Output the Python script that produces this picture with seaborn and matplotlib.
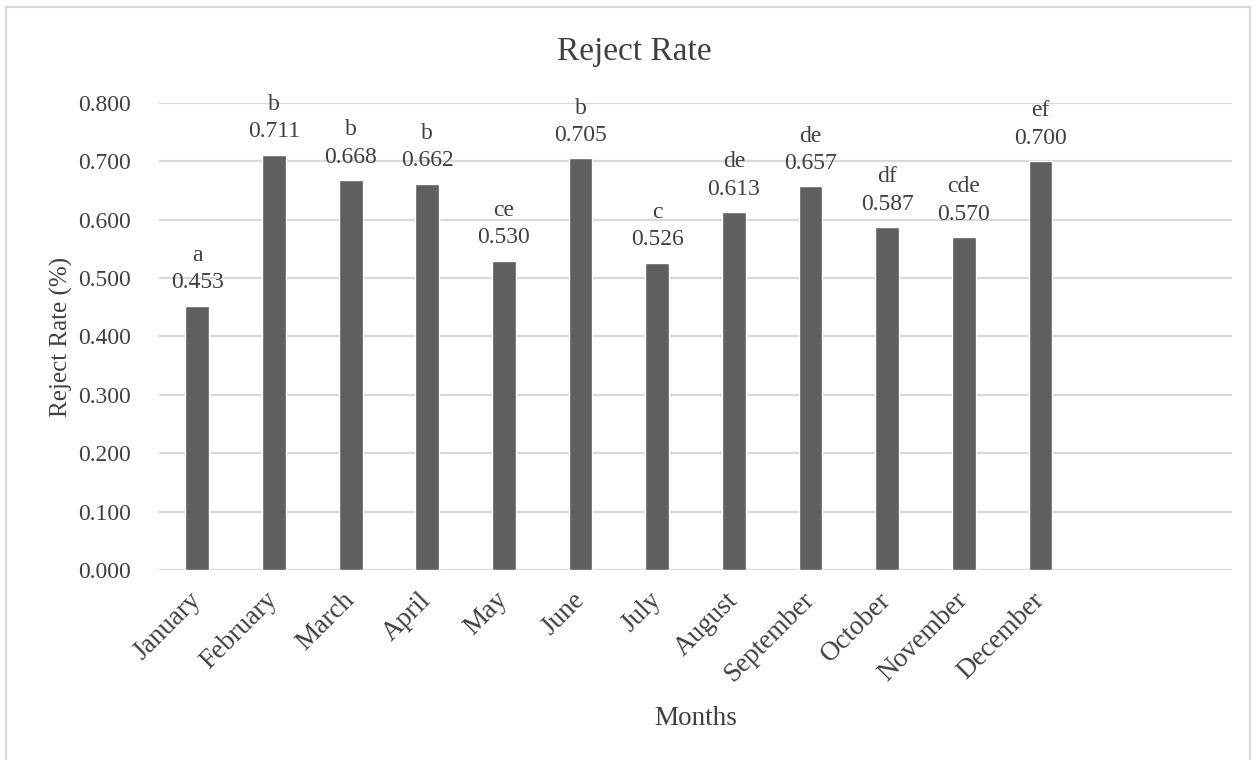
import seaborn as sns
import pandas as pd
import matplotlib.pyplot as plt
from matplotlib.patches import Rectangle

# monthly reject rate with significance letters
months = ['January', 'February', 'March', 'April', 'May', 'June', 'July',
          'August', 'September', 'October', 'November', 'December']
reject_rate = [0.453, 0.711, 0.668, 0.662, 0.530, 0.705, 0.526,
               0.613, 0.657, 0.587, 0.570, 0.700]
letters = ['a', 'b', 'b', 'b', 'ce', 'b', 'c', 'de', 'de', 'df', 'cde', 'ef']
y_ticks = [0.0, 0.1, 0.2, 0.3, 0.4, 0.5, 0.6, 0.7, 0.8]

df = pd.DataFrame({'Month': months, 'Rate': reject_rate, 'Letter': letters})

sns.set_style('white')
plt.rcParams['font.family'] = ['Liberation Serif', 'DejaVu Serif']
text_col = '#404040'
grid_col = '#d9d9d9'

fig = plt.figure(figsize=(12.59, 7.6), dpi=100)
ax = fig.add_axes([0.1263, 0.25, 0.8523, 0.6145])

sns.barplot(data=df, x='Month', y='Rate', color='#5f5f5f', saturation=1,
            width=0.31, errorbar=None, ax=ax, zorder=3)

# value + letter labels above each bar
for i, row in df.iterrows():
    ax.annotate(f"{row['Letter']}\n{row['Rate']:.3f}", (i, row['Rate']),
                xytext=(0, 9), textcoords='offset points', ha='center',
                va='bottom', fontsize=17, color=text_col, linespacing=1.4,
                annotation_clip=False, zorder=4)

ax.set_xlim(-0.5, 13.5)
ax.set_ylim(0, 0.8)
ax.set_yticks(y_ticks)
ax.set_yticklabels([f'{v:.3f}' for v in y_ticks])
ax.yaxis.grid(True, color=grid_col, lw=1.6, zorder=0)
ax.xaxis.grid(False)
sns.despine(ax=ax, left=True, bottom=True, top=True, right=True)
ax.tick_params(axis='both', length=0, labelcolor=text_col)
ax.tick_params(axis='y', pad=20, labelsize=17)
ax.tick_params(axis='x', pad=19, labelsize=19.5)
plt.setp(ax.get_xticklabels(), rotation=45, ha='right', va='center',
         rotation_mode='anchor')

ax.set_xlabel('Months', fontsize=19.5, color=text_col)
ax.xaxis.set_label_coords(0.5, -0.332)
ax.xaxis.label.set_va('baseline')
ax.set_ylabel('Reject Rate (%)', fontsize=18, color=text_col, labelpad=4)
ax.set_title('Reject Rate', fontsize=24, color=text_col, pad=31, x=0.4427)

# light chart frame like the spreadsheet chart area
fig.patches.append(Rectangle((6 / 1259, -0.05), 1244 / 1259, 1.05 - 7 / 760,
                             transform=fig.transFigure, fill=False,
                             edgecolor=grid_col, lw=1.6))

plt.savefig('out.png', dpi=100)
